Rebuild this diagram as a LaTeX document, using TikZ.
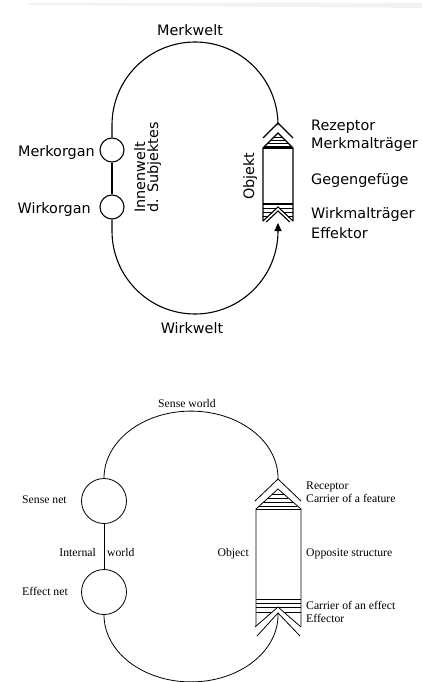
\documentclass[tikz,border=0pt]{standalone}
\usepackage{fontspec}
\setmainfont{Liberation Serif}
\newfontfamily\dejavu{DejaVu Sans}
\usetikzlibrary{arrows.meta}
\begin{document}
\begin{tikzpicture}[x=1pt,y=-1pt,
  topline/.style={line width=1.1pt},
  botline/.style={line width=0.8pt},
  tophatch/.style={line width=0.7pt},
  bothatch/.style={line width=0.6pt},
  toptext/.style={font=\dejavu\fontsize{14.4}{16}\selectfont, inner sep=0pt},
  bottext/.style={font=\fontsize{11.7}{13}\selectfont, inner sep=0pt},
  organ/.style={circle, draw, inner sep=0pt},
]
\useasboundingbox (0,0) rectangle (422,682);
\fill[gray!10] (28,3) -- (422,3) -- (422,8) -- (28,5) -- cycle;

% ---------------- upper diagram ----------------
\node[organ, topline, minimum size=24pt] (merkorgan) at (112,150) {};
\node[organ, topline, minimum size=24pt] (wirkorgan) at (112,207) {};
\coordinate (rezapex) at (278,123);
\coordinate (effbase) at (278,223);
\draw[topline] (merkorgan.north) -- (112,125) arc[start angle=180,end angle=360,radius=83] -- (rezapex);
\draw[topline] (merkorgan.south) -- (wirkorgan.north);
\draw[topline, -{Triangle[length=8pt,width=7pt]}] (wirkorgan.south) -- (112,231) arc[start angle=180,end angle=0,radius=83] -- (effbase);

% object (upper)
\draw[topline] (263,138) -- (rezapex) -- (293,138);
\draw[topline] (263,221) -- (263,148) -- (278,133) -- (293,148) -- (293,221);
\draw[topline] (263,148) -- (293,148);
\draw[tophatch] (274,137) -- (282,137) (271,140) -- (285,140) (268,143) -- (288,143) (265,146) -- (291,146);
\draw[topline] (263,204) -- (293,204);
\draw[topline] (263,221) -- (278,207) -- (293,221);
\draw[topline] (266.2,222) -- (278,211) -- (289.8,222);
\draw[tophatch] (263,208) -- (277,208) (279,208) -- (293,208)
  (263,212) -- (272.6,212) (283.4,212) -- (293,212)
  (263,216) -- (268.4,216) (287.6,216) -- (293,216);

% texts (upper)
\node[toptext, anchor=base] (merkwelt) at (190,36) {Merkwelt};
\node[toptext, anchor=base] (wirkwelt) at (192,333) {Wirkwelt};
\node[toptext, anchor=base east] (merkorganlabel) at (95,156) {Merkorgan};
\node[toptext, anchor=base east] (wirkorganlabel) at (91,213) {Wirkorgan};
\node[toptext, rotate=90, anchor=base west] (innen) at (145,213) {Innenwelt};
\node[toptext, rotate=90, anchor=base west] (subj) at (158,213) {d. Subjektes};
\node[toptext, rotate=90, anchor=base west] (objekt) at (254,200) {Objekt};
\node[toptext, anchor=base west] (rezeptor) at (311,131) {Rezeptor};
\node[toptext, anchor=base west] (merkmal) at (311,148) {Merkmalträger};
\node[toptext, anchor=base west] (gegen) at (311,184) {Gegengefüge};
\node[toptext, anchor=base west] (wirkmal) at (311,218) {Wirkmalträger};
\node[toptext, anchor=base west] (effektor) at (311,238) {Effektor};

% ---------------- lower diagram ----------------
\node[organ, botline, minimum size=45pt] (sensenet) at (104,501) {};
\node[organ, botline, minimum size=45pt] (effectnet) at (104,592) {};
\coordinate (recapex) at (278,479);
\coordinate (effapex) at (278,613);
\draw[botline] (sensenet.north) arc[start angle=180,end angle=360,x radius=87,y radius=67] -- (recapex);
\draw[botline] (sensenet.south) -- (effectnet.north);
\draw[botline] (effectnet.south) arc[start angle=180,end angle=0,x radius=87,y radius=67] -- (effapex);

% object (lower)
\draw[botline] (255,501) -- (recapex) -- (301,501);
\draw[botline] (256,626) -- (256,509) -- (278,489) -- (301,509) -- (301,626);
\draw[botline] (256,509) -- (301,509);
\draw[bothatch] (272.4,494) -- (283.6,494) (267.9,498) -- (288.1,498)
  (263.4,502) -- (292.6,502) (258.9,506) -- (297.1,506);
\draw[botline] (256,599) -- (301,599);
\draw[bothatch] (256,603) -- (301,603)
  (256,607) -- (277,607) (279,607) -- (301,607)
  (256,612) -- (272.2,612) (283.8,612) -- (301,612);
\draw[botline] (255,627) -- (278,607) -- (301,627);
\draw[botline] (257,636) -- (effapex) -- (300,636);

% texts (lower)
\node[bottext, anchor=base] (senseworld) at (187,407) {Sense world};
\node[bottext, anchor=base west] (sensenetlabel) at (22,503) {Sense net};
\node[bottext, anchor=base east] (internal) at (96,556) {Internal};
\node[bottext, anchor=base west] (world) at (107,556) {world};
\node[bottext, anchor=base west] (effectnetlabel) at (22,595) {Effect net};
\node[bottext, anchor=base east] (object) at (249,556) {Object};
\node[bottext, anchor=base west] (receptor) at (306,489) {Receptor};
\node[bottext, anchor=base west] (carrierfeat) at (306,502) {Carrier of a feature};
\node[bottext, anchor=base west] (opposite) at (306,556) {Opposite structure};
\node[bottext, anchor=base west] (carriereff) at (306,609) {Carrier of an effect};
\node[bottext, anchor=base west] (effector) at (306,622) {Effector};
\end{tikzpicture}
\end{document}
